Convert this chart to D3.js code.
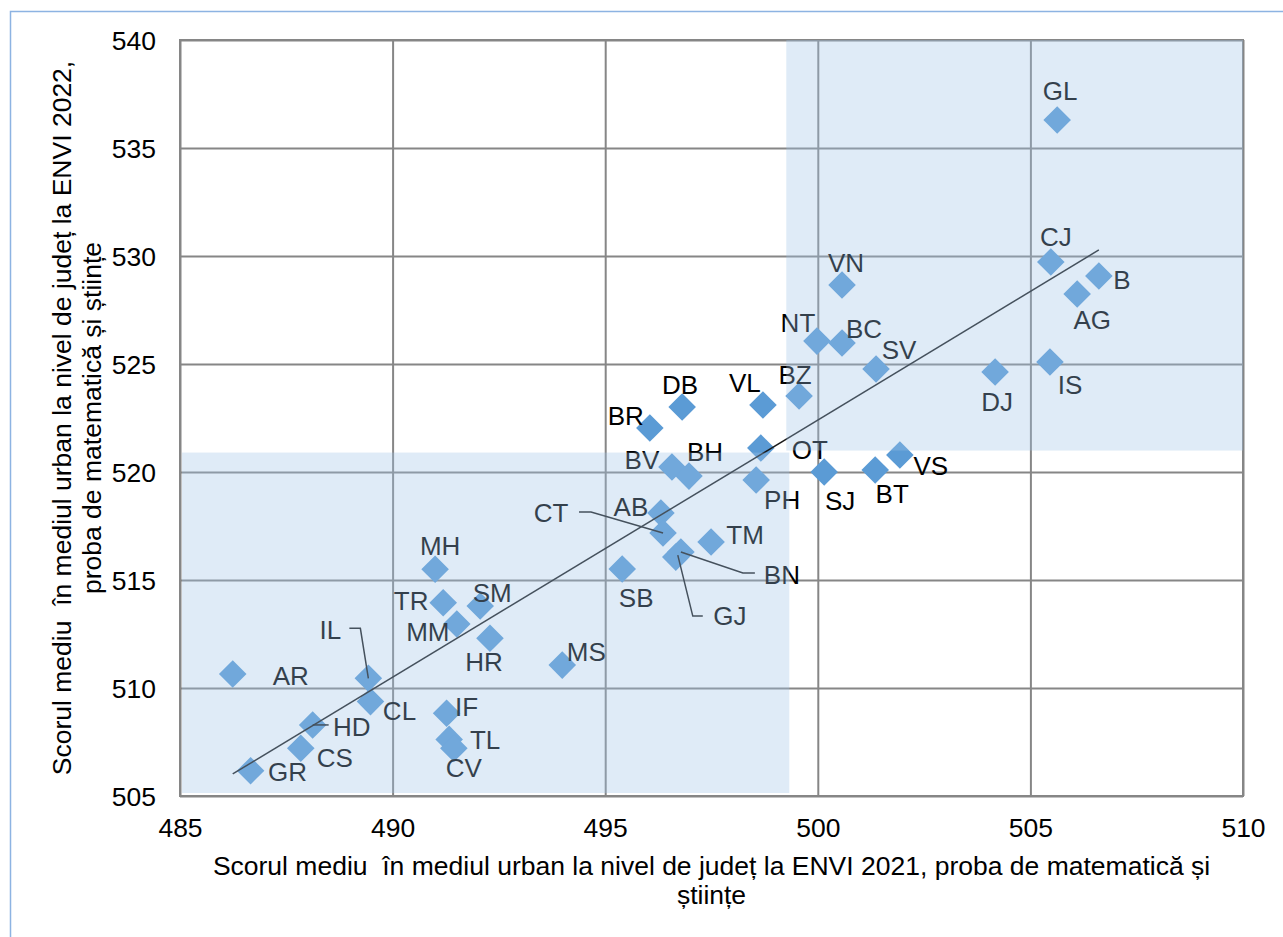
<!DOCTYPE html>
<html>
<head>
<meta charset="utf-8">
<script src="https://cdn.jsdelivr.net/npm/d3@7"></script>
<style>
  html, body { margin: 0; padding: 0; background: #fff; }
  svg { display: block; font-family: Arial, "Liberation Sans", sans-serif; }
  text { white-space: pre; }
</style>
</head>
<body>
<svg id="chart" width="1283" height="937"></svg>
<script>
// ---- Data ----
const counties = ["GL","CJ","B","AG","VN","NT","BC","SV","DJ","IS","BZ","VL","DB","BR","OT","BV","BH","PH","SJ","BT","VS","AB","CT","TM","BN","GJ","SB","MS","MH","TR","SM","MM","HR","IL","AR","CL","HD","CS","GR","IF","TL","CV"];
const score2021 = [505.63,505.48,506.61,506.10,500.57,499.98,500.57,501.37,504.17,505.46,499.56,498.71,496.81,496.05,498.66,496.57,496.97,498.55,500.15,501.35,501.93,496.31,496.36,497.49,496.78,496.66,495.40,493.99,491.00,491.19,492.06,491.51,492.29,489.43,486.24,489.48,488.12,487.84,486.66,491.27,491.33,491.44];
const score2022 = [536.30,529.72,529.07,528.24,528.66,526.06,525.97,524.77,524.63,525.09,523.52,523.10,523.01,522.04,521.11,520.23,519.81,519.63,520.00,520.09,520.79,518.10,517.18,516.76,516.30,516.06,515.51,511.06,515.50,513.95,513.80,512.96,512.30,510.45,510.65,509.37,508.29,507.21,506.17,508.83,507.62,507.21];
// national reference values delimiting the shaded quadrants
const national2021 = 499.33;
const national2022 = 520.9;
// linear trend line end points (data units)
const trendX = [486.24, 506.61];
const trendY = [506.02, 530.28];
// ticks
const xTicks = [485, 490, 495, 500, 505, 510];
const yTicks = [505, 510, 515, 520, 525, 530, 535, 540];
const xTitle = ["Scorul mediu  în mediul urban la nivel de județ la ENVI 2021, proba de matematică și", "științe"];
const yTitle = ["Scorul mediu  în mediul urban la nivel de județ la ENVI 2022,", "proba de matematică și științe"];

// ---- Layout (label offsets in pixels relative to each point) ----
const labelOffset = {
  GL:[3,-29], CJ:[5,-25], B:[23,4], AG:[15,26], VN:[4,-22], NT:[-19,-18], BC:[22,-14], SV:[23,-19],
  DJ:[2,30], IS:[20,23], BZ:[-4,-21], VL:[-18,-22], DB:[-2,-22], BR:[-24,-12], OT:[49,2], BV:[-30,-7],
  BH:[16,-24], PH:[26,20], SJ:[16,29], BT:[17,24], VS:[31,11], AB:[-30,-6], CT:[-112,-20], TM:[34,-7],
  BN:[101,23], GJ:[54,59], SB:[14,29], MS:[24,-13], MH:[5,-23], TR:[-32,-2], SM:[12,-13], MM:[-29,8],
  HR:[-6,24], IL:[-38,-48], AR:[58,2], CL:[29,9], HD:[39,2], CS:[34,10], GR:[37,1], IF:[20,-6], TL:[36,1], CV:[10,20]
};
const leaders = {
  IL: [[-19,-50],[-8,-50],[0,0]],
  HD: [[0,0],[16,0]],
  CT: [[-84,-21],[-72,-21],[0,0]],
  BN: [[0,0],[62,21],[74,21]],
  GJ: [[2,-2],[17,59],[27,59]]
};

const svg = d3.select("#chart");
const m = {left: 180, right: 1243, top: 40, bottom: 796};
const x = d3.scaleLinear().domain([485, 510]).range([m.left, m.right]);
const y = d3.scaleLinear().domain([505, 540]).range([m.bottom, m.top]);

// outer frame
svg.append("rect").attr("x", 10.5).attr("y", 11.5).attr("width", 1300).attr("height", 960)
  .attr("fill", "none").attr("stroke", "#8db3e2").attr("stroke-width", 1.5);

const gridColor = "#868686";
// grid
const gx = svg.append("g").attr("transform", `translate(0,${m.bottom})`)
  .call(d3.axisBottom(x).tickValues(xTicks).tickSize(-(m.bottom - m.top)).tickFormat(d3.format("d")));
gx.select(".domain").remove();
gx.selectAll("line").attr("stroke", gridColor).attr("stroke-width", 2);
gx.selectAll("text").attr("font-size", 26.5).attr("fill", "#000").attr("dy", null).attr("y", 32).attr("dominant-baseline", "central");

const gy = svg.append("g").attr("transform", `translate(${m.left},0)`)
  .call(d3.axisLeft(y).tickValues(yTicks).tickSize(-(m.right - m.left)).tickFormat(d3.format("d")));
gy.select(".domain").remove();
gy.selectAll("line").attr("stroke", gridColor).attr("stroke-width", 2);
gy.selectAll("text").attr("font-size", 26.5).attr("fill", "#000").attr("x", -24).attr("dy", null).attr("dominant-baseline", "central");

svg.append("rect").attr("x", m.left).attr("y", m.top).attr("width", m.right - m.left).attr("height", m.bottom - m.top)
  .attr("fill", "none").attr("stroke", gridColor).attr("stroke-width", 2);

const data = counties.map((c, i) => ({name: c, x: score2021[i], y: score2022[i]}));

// points
const diamond = d3.symbol().type(d3.symbolSquare).size(380);
svg.append("g").selectAll("path").data(data).join("path")
  .attr("d", diamond)
  .attr("transform", d => `translate(${x(d.x)},${y(d.y)}) rotate(45)`)
  .attr("fill", "#5b9bd5");

// trend line
svg.append("line")
  .attr("x1", x(trendX[0])).attr("y1", y(trendY[0]))
  .attr("x2", x(trendX[1])).attr("y2", y(trendY[1]))
  .attr("stroke", "#1a1a1a").attr("stroke-width", 1.5);

// leader lines
const lg = svg.append("g");
data.filter(d => leaders[d.name]).forEach(d => {
  const px = x(d.x), py = y(d.y);
  lg.append("polyline")
    .attr("points", leaders[d.name].map(p => `${px + p[0]},${py + p[1]}`).join(" "))
    .attr("fill", "none").attr("stroke", "#1a1a1a").attr("stroke-width", 1.5);
});

// labels
svg.append("g").selectAll("text").data(data).join("text")
  .attr("x", d => x(d.x) + labelOffset[d.name][0])
  .attr("y", d => y(d.y) + labelOffset[d.name][1])
  .attr("text-anchor", "middle").attr("dominant-baseline", "central")
  .attr("font-size", 26).attr("fill", "#000")
  .text(d => d.name);

// shaded quadrants (drawn semi-transparent on top, as in the reference)
svg.append("rect")
  .attr("x", x(485) + 2).attr("y", y(national2022))
  .attr("width", x(national2021) - x(485) - 2).attr("height", y(505) - y(national2022) - 3)
  .attr("fill", "#9dc3e6").attr("fill-opacity", 0.33);
svg.append("rect")
  .attr("x", x(national2021) - 3).attr("y", y(540))
  .attr("width", x(510) - x(national2021) + 3).attr("height", y(national2022) - y(540) - 2)
  .attr("fill", "#9dc3e6").attr("fill-opacity", 0.33);

// axis titles
const xt = svg.append("text").attr("text-anchor", "middle").attr("font-size", 26.5).attr("fill", "#000");
xTitle.forEach((t, i) => xt.append("tspan").attr("x", (m.left + m.right) / 2).attr("y", 866 + i * 29).attr("dominant-baseline", "central").text(t));

const yt = svg.append("text").attr("text-anchor", "middle").attr("font-size", 26.5).attr("fill", "#000")
  .attr("transform", `translate(0,${(m.top + m.bottom) / 2}) rotate(-90)`);
yTitle.forEach((t, i) => yt.append("tspan").attr("x", 0).attr("y", 62 + i * 30).attr("dominant-baseline", "central").text(t));
</script>
</body>
</html>
